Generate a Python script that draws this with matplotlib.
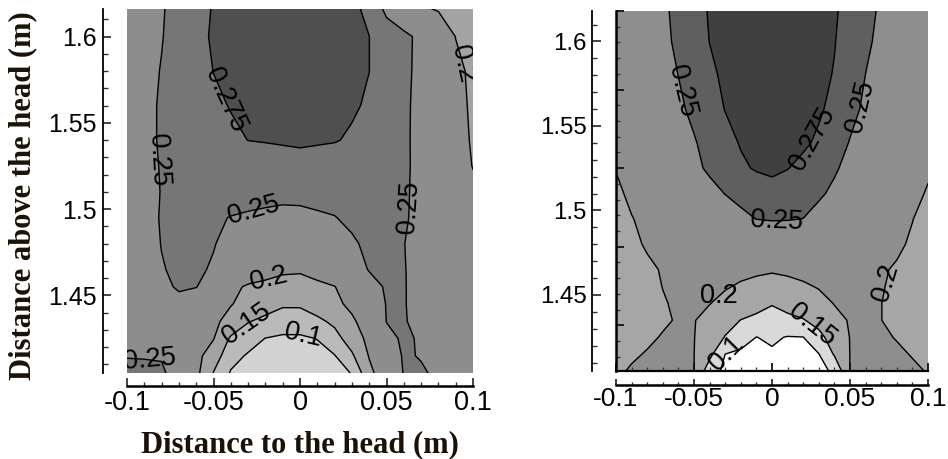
import matplotlib
matplotlib.use("Agg")
import matplotlib.pyplot as plt
import numpy as np
from matplotlib.ticker import MultipleLocator, FixedLocator, NullFormatter

# ---------------- data ----------------
x_pos = [-0.10, -0.09, -0.08, -0.07, -0.06, -0.05, -0.04, -0.03, -0.02, -0.01, 0.00,
         0.01, 0.02, 0.03, 0.04, 0.05, 0.06, 0.07, 0.08, 0.09, 0.10]
y_pos = [1.405, 1.415, 1.425, 1.435, 1.445, 1.455, 1.465, 1.48, 1.495, 1.51,
         1.525, 1.54, 1.56, 1.58, 1.60, 1.618]

# left panel field, rows bottom -> top
left_z = [
    [0.256, 0.254, 0.252, 0.244, 0.213, 0.148, 0.096, 0.087, 0.077, 0.068, 0.072, 0.081, 0.091, 0.101, 0.188, 0.230, 0.251, 0.252, 0.247, 0.241, 0.235],
    [0.249, 0.249, 0.249, 0.231, 0.213, 0.177, 0.117, 0.095, 0.086, 0.078, 0.081, 0.089, 0.098, 0.143, 0.203, 0.237, 0.252, 0.249, 0.244, 0.238, 0.232],
    [0.242, 0.241, 0.240, 0.232, 0.217, 0.202, 0.143, 0.121, 0.099, 0.093, 0.093, 0.101, 0.133, 0.173, 0.213, 0.244, 0.253, 0.248, 0.241, 0.235, 0.228],
    [0.240, 0.241, 0.242, 0.236, 0.222, 0.208, 0.187, 0.153, 0.138, 0.124, 0.125, 0.140, 0.160, 0.193, 0.222, 0.2505, 0.251, 0.246, 0.239, 0.232, 0.225],
    [0.228, 0.234, 0.239, 0.245, 0.231, 0.216, 0.202, 0.187, 0.172, 0.157, 0.157, 0.174, 0.190, 0.210, 0.233, 0.251, 0.251, 0.244, 0.236, 0.229, 0.222],
    [0.230, 0.238, 0.246, 0.252, 0.251, 0.233, 0.210, 0.195, 0.188, 0.180, 0.181, 0.190, 0.199, 0.221, 0.243, 0.252, 0.251, 0.244, 0.236, 0.228, 0.220],
    [0.232, 0.241, 0.249, 0.253, 0.253, 0.248, 0.238, 0.228, 0.219, 0.209, 0.206, 0.217, 0.229, 0.241, 0.251, 0.254, 0.251, 0.243, 0.235, 0.226, 0.218],
    [0.235, 0.243, 0.2505, 0.254, 0.255, 0.251, 0.244, 0.238, 0.231, 0.224, 0.225, 0.233, 0.241, 0.248, 0.253, 0.254, 0.2505, 0.242, 0.233, 0.224, 0.215],
    [0.238, 0.245, 0.251, 0.255, 0.255, 0.252, 0.2495, 0.248, 0.2465, 0.245, 0.2465, 0.248, 0.2495, 0.253, 0.256, 0.256, 0.252, 0.245, 0.234, 0.222, 0.210],
    [0.238, 0.245, 0.2505, 0.252, 0.254, 0.255, 0.257, 0.256, 0.2555, 0.255, 0.254, 0.255, 0.2555, 0.256, 0.257, 0.254, 0.252, 0.246, 0.233, 0.219, 0.206],
    [0.238, 0.245, 0.251, 0.254, 0.257, 0.259, 0.262, 0.265, 0.266, 0.267, 0.268, 0.267, 0.266, 0.265, 0.261, 0.257, 0.253, 0.245, 0.230, 0.214, 0.199],
    [0.238, 0.245, 0.252, 0.257, 0.261, 0.266, 0.271, 0.2752, 0.276, 0.277, 0.278, 0.277, 0.276, 0.273, 0.267, 0.260, 0.254, 0.243, 0.227, 0.211, 0.197],
    [0.237, 0.245, 0.252, 0.258, 0.265, 0.271, 0.276, 0.280, 0.283, 0.286, 0.287, 0.283, 0.280, 0.277, 0.273, 0.264, 0.255, 0.242, 0.225, 0.208, 0.196],
    [0.235, 0.243, 0.251, 0.259, 0.267, 0.2753, 0.279, 0.282, 0.285, 0.288, 0.288, 0.285, 0.282, 0.278, 0.2751, 0.266, 0.256, 0.243, 0.225, 0.206, 0.195],
    [0.235, 0.242, 0.249, 0.259, 0.270, 0.277, 0.281, 0.284, 0.288, 0.291, 0.289, 0.286, 0.282, 0.279, 0.2751, 0.266, 0.257, 0.243, 0.221, 0.1995, 0.190],
    [0.235, 0.242, 0.248, 0.258, 0.269, 0.276, 0.280, 0.283, 0.286, 0.289, 0.287, 0.284, 0.281, 0.278, 0.271, 0.240, 0.220, 0.201, 0.195, 0.190, 0.185],
]

# right panel field, rows bottom -> top
right_z = [
    [0.195, 0.203, 0.207, 0.209, 0.205, 0.2005, 0.122, 0.090, 0.077, 0.063, 0.050, 0.063, 0.075, 0.088, 0.107, 0.201, 0.204, 0.208, 0.208, 0.203, 0.199],
    [0.185, 0.196, 0.202, 0.206, 0.204, 0.2005, 0.163, 0.100, 0.090, 0.080, 0.095, 0.080, 0.089, 0.099, 0.155, 0.2005, 0.204, 0.207, 0.203, 0.199, 0.190],
    [0.170, 0.183, 0.195, 0.202, 0.204, 0.201, 0.177, 0.148, 0.124, 0.0995, 0.106, 0.098, 0.0995, 0.136, 0.173, 0.201, 0.204, 0.203, 0.199, 0.187, 0.175],
    [0.165, 0.175, 0.186, 0.196, 0.2025, 0.2015, 0.188, 0.168, 0.149, 0.140, 0.130, 0.139, 0.147, 0.167, 0.192, 0.202, 0.203, 0.2005, 0.189, 0.177, 0.165],
    [0.170, 0.179, 0.189, 0.198, 0.204, 0.205, 0.201, 0.190, 0.178, 0.165, 0.153, 0.165, 0.178, 0.190, 0.201, 0.205, 0.205, 0.2004, 0.191, 0.180, 0.170],
    [0.175, 0.184, 0.192, 0.2005, 0.206, 0.211, 0.208, 0.203, 0.196, 0.189, 0.181, 0.189, 0.196, 0.202, 0.207, 0.212, 0.207, 0.202, 0.194, 0.185, 0.175],
    [0.180, 0.1875, 0.195, 0.202, 0.207, 0.212, 0.214, 0.212, 0.209, 0.207, 0.205, 0.207, 0.209, 0.212, 0.214, 0.213, 0.208, 0.203, 0.197, 0.1885, 0.180],
    [0.185, 0.194, 0.203, 0.2115, 0.220, 0.228, 0.229, 0.2296, 0.230, 0.231, 0.232, 0.231, 0.230, 0.2296, 0.229, 0.228, 0.220, 0.212, 0.205, 0.196, 0.185],
    [0.190, 0.199, 0.206, 0.212, 0.219, 0.225, 0.232, 0.238, 0.245, 0.2503, 0.2515, 0.2512, 0.2498, 0.243, 0.236, 0.229, 0.222, 0.215, 0.208, 0.2007, 0.190],
    [0.195, 0.205, 0.212, 0.220, 0.228, 0.235, 0.243, 0.2505, 0.256, 0.2615, 0.267, 0.2636, 0.258, 0.253, 0.246, 0.238, 0.230, 0.222, 0.214, 0.206, 0.198],
    [0.201, 0.210, 0.2185, 0.227, 0.236, 0.245, 0.2536, 0.2625, 0.2714, 0.2771, 0.2793, 0.2757, 0.2685, 0.2605, 0.2524, 0.2442, 0.236, 0.228, 0.2195, 0.211, 0.203],
    [0.210, 0.2176, 0.2253, 0.233, 0.2406, 0.2482, 0.2577, 0.2676, 0.2766, 0.2827, 0.2888, 0.2851, 0.279, 0.271, 0.2597, 0.2489, 0.2411, 0.2333, 0.2256, 0.2178, 0.210],
    [0.218, 0.225, 0.2321, 0.2391, 0.2461, 0.2548, 0.2656, 0.2757, 0.2817, 0.2877, 0.2938, 0.2902, 0.2841, 0.2781, 0.2688, 0.2561, 0.2463, 0.2392, 0.2321, 0.225, 0.218],
    [0.224, 0.2305, 0.237, 0.2435, 0.2502, 0.2605, 0.2709, 0.2787, 0.2847, 0.2907, 0.2968, 0.293, 0.2868, 0.2806, 0.2738, 0.2617, 0.2498, 0.2433, 0.2369, 0.2304, 0.224],
    [0.228, 0.2339, 0.2399, 0.2458, 0.2533, 0.2644, 0.2753, 0.2813, 0.2873, 0.2934, 0.2994, 0.2944, 0.2883, 0.2821, 0.2759, 0.265, 0.2532, 0.2457, 0.2398, 0.2339, 0.228],
    [0.230, 0.2356, 0.2411, 0.2467, 0.2548, 0.2667, 0.2767, 0.2826, 0.2884, 0.2942, 0.300, 0.2943, 0.2886, 0.283, 0.2773, 0.2679, 0.256, 0.2471, 0.2414, 0.2357, 0.230],
]

line_levels = [0.1, 0.15, 0.2, 0.25, 0.275]
fill_levels = [0.0, 0.1, 0.15, 0.2, 0.25, 0.275, 0.4]
left_colors = ['#d2d2d2', '#bababa', '#a3a3a3', '#8d8d8d', '#767676', '#4f4f4f']
right_colors = ['#ffffff', '#d9d9d9', '#a6a6a6', '#8e8e8e', '#5f5f5f', '#404040']

x_ticks = [-0.1, -0.05, 0.0, 0.05, 0.1]
x_ticklabels = ['-0.1', '-0.05', '0', '0.05', '0.1']
y_ticks = [1.45, 1.5, 1.55, 1.6]
y_ticklabels = ['1.45', '1.5', '1.55', '1.6']

# inner frame ticks of the right panel (its own spacing)
frame_y_major = [1.618, 1.5715, 1.525, 1.4785, 1.432]
frame_y_step = 0.0093

# label anchor points (level, x, y, fixed rotation or None)
left_labels = [(0.275, -0.048, 1.561, None), (0.25, -0.0856, 1.528, None),
               (0.25, -0.027, 1.500, None), (0.25, 0.066, 1.501, None),
               (0.2, 0.093, 1.584, None), (0.2, -0.019, 1.463, None),
               (0.15, -0.033, 1.436, None), (0.1, 0.002, 1.428, None),
               (0.25, -0.087, 1.4135, 5)]
right_labels = [(0.25, -0.0569, 1.5708, None), (0.275, 0.0212, 1.5441, None),
                (0.25, 0.0543, 1.5619, None), (0.25, 0.003, 1.4928, None),
                (0.2, -0.0355, 1.4504, 0), (0.15, 0.0263, 1.4336, None),
                (0.1, -0.029, 1.415, None), (0.2, 0.0776, 1.4563, None)]

x_label = 'Distance to the head (m)'
y_label = 'Distance above the head (m)'

# ---------------- figure ----------------
W, H = 948, 459
fig = plt.figure(figsize=(W / 100, H / 100), dpi=100)
fig.patch.set_facecolor('white')

pos1 = [127 / W, 1 - 373 / H, 346 / W, 364 / H]
pos2 = [616 / W, 1 - 371 / H, 312 / W, 360 / H]
ax1 = fig.add_axes(pos1)
ax2 = fig.add_axes(pos2)

X, Y = np.meshgrid(np.array(x_pos), np.array(y_pos))
TICKFONT = 'Liberation Sans'


def draw(ax, Z, colors, labels, ylim, xfs, yfs, xout, yout, xpad, ypad, xlen, ylen):
    Z = np.array(Z)
    ax.set_xlim(-0.1, 0.1)
    ax.set_ylim(*ylim)
    ax.contourf(X, Y, Z, levels=fill_levels, colors=colors)
    for lev in line_levels:
        cs = ax.contour(X, Y, Z, levels=[lev], colors='black', linewidths=1.0)
        items = [(lx, ly, rot) for (lv, lx, ly, rot) in labels if lv == lev]
        if items:
            txts = ax.clabel(cs, manual=[(a, b) for a, b, _ in items], inline=False,
                             fmt='%g', fontsize=19.5, colors='black')
            for t, (_, _, rot) in zip(txts, items):
                t.set_fontfamily('Liberation Sans')
                if rot is not None:
                    t.set_rotation(rot)
    for s in ['top', 'right']:
        ax.spines[s].set_visible(False)
    ax.spines['left'].set_position(('outward', yout))
    ax.spines['bottom'].set_position(('outward', xout))
    ax.spines['bottom'].set_linewidth(1.8)
    ax.spines['left'].set_linewidth(1.3)
    ax.set_xticks(x_ticks)
    ax.set_xticklabels(x_ticklabels, fontsize=xfs, family=TICKFONT)
    ax.set_yticks(y_ticks)
    ax.set_yticklabels(y_ticklabels, fontsize=yfs, family=TICKFONT)
    ax.xaxis.set_minor_locator(MultipleLocator(0.01))
    ax.yaxis.set_minor_locator(MultipleLocator(0.01))
    ax.tick_params(axis='x', which='major', direction='in', length=xlen, width=1.2,
                   pad=xpad, color='#222222')
    ax.tick_params(axis='x', which='minor', direction='in', length=xlen * 0.5, width=1.0,
                   color='#333333')
    ax.tick_params(axis='y', which='major', direction='in', length=ylen, width=1.2,
                   pad=ypad, color='#222222')
    ax.tick_params(axis='y', which='minor', direction='in', length=ylen * 0.55, width=1.0,
                   color='#333333')


draw(ax1, left_z, left_colors, left_labels, (1.405, 1.616), 19.5, 18, 9.4, 17, 2.8, 5, 6, 6)
draw(ax2, right_z, right_colors, right_labels, (1.405, 1.618), 19, 17.3, 10.3, 17.5, 1.2, 3.6, 4.3, 6.5)

# inner frame (left and bottom edge) of the right panel
axf = fig.add_axes(pos2, facecolor='none')
axf.set_xlim(-0.1, 0.1)
axf.set_ylim(1.405, 1.618)
for s in ['top', 'right']:
    axf.spines[s].set_visible(False)
axf.spines['left'].set_linewidth(1.8)
axf.spines['bottom'].set_linewidth(1.6)
axf.xaxis.set_major_locator(FixedLocator(x_ticks))
axf.xaxis.set_minor_locator(MultipleLocator(0.01))
axf.yaxis.set_major_locator(FixedLocator(frame_y_major))
axf.yaxis.set_minor_locator(FixedLocator(
    [frame_y_major[0] - k * frame_y_step for k in range(1, 23)]))
axf.xaxis.set_major_formatter(NullFormatter())
axf.yaxis.set_major_formatter(NullFormatter())
axf.tick_params(which='major', direction='in', length=6, width=1.3, color='#111111')
axf.tick_params(which='minor', direction='in', length=3, width=0.9, color='#333333')

fig.text(300 / W, 1 - 452 / H, x_label, ha='center', va='baseline',
         family='Liberation Serif', weight='bold', fontsize=22, color='#1a1206')
fig.text(23 / W, 1 - 196 / H, y_label, ha='center', va='center', rotation=90,
         family='Liberation Serif', weight='bold', fontsize=22, color='#1a1206')

fig.savefig('out.png', dpi=100, facecolor='white')
